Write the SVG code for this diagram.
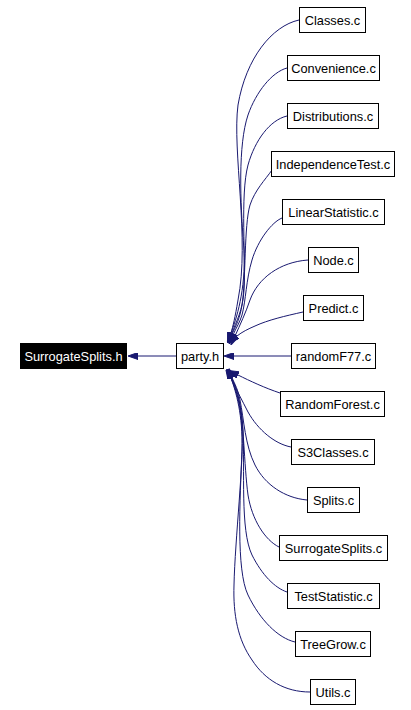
<svg xmlns="http://www.w3.org/2000/svg" width="411" height="710" viewBox="0 0 411 710">
<style>
.n rect{fill:#fff;stroke:#000;stroke-width:1}
.n text{font-family:"Liberation Sans",Arial,sans-serif;font-size:12.8px;fill:#000;text-anchor:middle}
#n_root rect{fill:#000}
#n_root text{fill:#fff}
.e path{fill:none;stroke:#191970;stroke-width:1;marker-end:url(#ah)}
</style>
<defs>
<marker id="ah" viewBox="0 0 10 7" refX="0" refY="3.5" markerWidth="10" markerHeight="7" markerUnits="userSpaceOnUse" orient="auto">
<path d="M0,0 L10,3.5 L0,7 z" fill="#191970" stroke="#191970" stroke-width="1"/>
</marker>
</defs>
<rect width="411" height="710" fill="#fff"/>
<g id="edges" class="e">
<path d="M176,356 L138,356"/>
<path d="M291,356 L234,356"/>
<path d="M299,20 C272,26 246,58 238,105 C232,150 250,240 238,300 C235,318 233,326 231,333"/>
<path d="M287,68 C272,72 256,92 248,115 C238,145 240,200 244,250 C246,290 236,320 231,333"/>
<path d="M287,116 C270,120 255,140 248,165 C240,195 246,260 244,290 C243,310 236,322 232,333"/>
<path d="M272,170 C265,180 255,190 250,205 C244,225 246,280 242,305 C240,318 236,326 232,334"/>
<path d="M282,218 C272,222 258,240 252,260 C246,280 246,300 242,315 C240,322 236,328 233,335"/>
<path d="M308,260 C280,262 258,278 250,300 C246,312 240,325 235,336"/>
<path d="M303,312 C285,316 268,320 255,326 C248,329 242,332 237,336"/>
<path d="M280,393 C265,388 250,381 238,375"/>
<path d="M291,447 C275,444 258,430 248,412 C242,400 236,390 232,378"/>
<path d="M307,500 C285,498 265,485 255,465 C245,445 244,420 240,400 C238,390 235,384 232,378"/>
<path d="M279,547 C265,540 252,520 248,495 C244,465 244,420 238,395 C236,388 234,383 231,378"/>
<path d="M287,592 C275,588 262,575 252,555 C240,530 245,470 243,430 C242,405 236,390 231,378"/>
<path d="M295,642 C278,638 260,620 248,595 C236,570 240,500 242,450 C243,415 236,392 231,378"/>
<path d="M310,692 C285,692 265,680 252,660 C238,640 233,615 234,585 C235,540 244,460 242,430 C241,405 236,390 231,378"/>
</g>
<g id="n_root" class="n"><rect x="20.5" y="343.5" width="106" height="25"/><text x="73.5" y="361">SurrogateSplits.h</text></g>
<g id="n_party" class="n"><rect x="176.5" y="343.5" width="47" height="25"/><text x="200" y="361">party.h</text></g>
<g id="n_classes" class="n"><rect x="299.5" y="7.5" width="66" height="25"/><text x="332.5" y="25">Classes.c</text></g>
<g id="n_convenience" class="n"><rect x="287.5" y="55.5" width="92" height="25"/><text x="333.5" y="73">Convenience.c</text></g>
<g id="n_distributions" class="n"><rect x="287.5" y="103.5" width="91" height="25"/><text x="333" y="121">Distributions.c</text></g>
<g id="n_independence" class="n"><rect x="271.5" y="151.5" width="123" height="25"/><text x="333" y="169">IndependenceTest.c</text></g>
<g id="n_linear" class="n"><rect x="282.5" y="199.5" width="102" height="25"/><text x="333.5" y="217">LinearStatistic.c</text></g>
<g id="n_node" class="n"><rect x="308.5" y="247.5" width="50" height="25"/><text x="333.5" y="265">Node.c</text></g>
<g id="n_predict" class="n"><rect x="303.5" y="295.5" width="60" height="25"/><text x="333.5" y="313">Predict.c</text></g>
<g id="n_randomf77" class="n"><rect x="291.5" y="343.5" width="84" height="25"/><text x="333.5" y="361">randomF77.c</text></g>
<g id="n_randomforest" class="n"><rect x="280.5" y="391.5" width="104" height="25"/><text x="332.5" y="409">RandomForest.c</text></g>
<g id="n_s3classes" class="n"><rect x="291.5" y="439.5" width="83" height="25"/><text x="333" y="457">S3Classes.c</text></g>
<g id="n_splits" class="n"><rect x="307.5" y="487.5" width="52" height="25"/><text x="333.5" y="505">Splits.c</text></g>
<g id="n_surrogatec" class="n"><rect x="279.5" y="535.5" width="108" height="25"/><text x="333.5" y="553">SurrogateSplits.c</text></g>
<g id="n_teststat" class="n"><rect x="287.5" y="583.5" width="92" height="25"/><text x="333.5" y="601">TestStatistic.c</text></g>
<g id="n_treegrow" class="n"><rect x="295.5" y="631.5" width="75" height="25"/><text x="333" y="649">TreeGrow.c</text></g>
<g id="n_utils" class="n"><rect x="310.5" y="679.5" width="45" height="25"/><text x="333" y="697">Utils.c</text></g>
</svg>
